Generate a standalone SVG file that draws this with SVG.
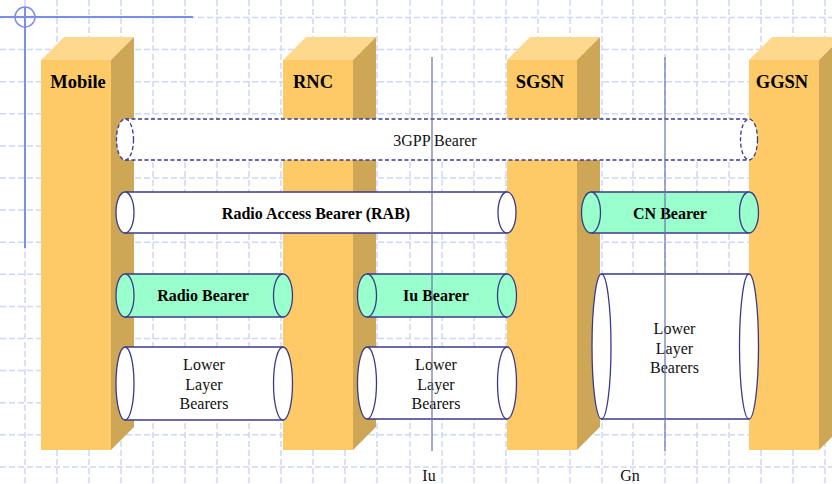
<svg xmlns="http://www.w3.org/2000/svg" width="832" height="484" viewBox="0 0 832 484">
<defs>
<style>
.grid line{stroke:#cdd8f7;stroke-width:1.5;stroke-dasharray:6 3}
.front{fill:#fdca67}
.top{fill:#fed88c}
.side{fill:#cda755}
.lbl{font-family:"Liberation Serif",serif;font-weight:bold;font-size:18.5px;fill:#000;text-anchor:middle}
.cw{fill:#fff}
.cg{fill:#99ffcc}
.edge{stroke:#3a3a8c;stroke-width:1.3;fill:none}
.dash{stroke:#3a3a8c;stroke-width:1.3;fill:none;stroke-dasharray:4 2.5}
.bt{font-family:"Liberation Serif",serif;font-weight:bold;font-size:16px;fill:#000;text-anchor:middle}
.rt{font-family:"Liberation Serif",serif;font-size:16px;fill:#111;text-anchor:middle}
.iface{stroke:#6a72ae;stroke-width:1.2}
</style>
</defs>
<rect width="832" height="484" fill="#fff"/>
<g class="grid">
<line x1="25" y1="0" x2="25" y2="484"/><line x1="57" y1="0" x2="57" y2="484"/><line x1="89" y1="0" x2="89" y2="484"/><line x1="121" y1="0" x2="121" y2="484"/><line x1="153" y1="0" x2="153" y2="484"/><line x1="185" y1="0" x2="185" y2="484"/><line x1="217" y1="0" x2="217" y2="484"/><line x1="249" y1="0" x2="249" y2="484"/><line x1="281" y1="0" x2="281" y2="484"/><line x1="313" y1="0" x2="313" y2="484"/><line x1="345" y1="0" x2="345" y2="484"/><line x1="377" y1="0" x2="377" y2="484"/><line x1="410" y1="0" x2="410" y2="484"/><line x1="442" y1="0" x2="442" y2="484"/><line x1="474" y1="0" x2="474" y2="484"/><line x1="506" y1="0" x2="506" y2="484"/><line x1="538" y1="0" x2="538" y2="484"/><line x1="570" y1="0" x2="570" y2="484"/><line x1="602" y1="0" x2="602" y2="484"/><line x1="633" y1="0" x2="633" y2="484"/><line x1="665" y1="0" x2="665" y2="484"/><line x1="697" y1="0" x2="697" y2="484"/><line x1="729" y1="0" x2="729" y2="484"/><line x1="761" y1="0" x2="761" y2="484"/><line x1="793" y1="0" x2="793" y2="484"/><line x1="825" y1="0" x2="825" y2="484"/>
<line x1="0" y1="17.5" x2="832" y2="17.5"/><line x1="0" y1="49.6" x2="832" y2="49.6"/><line x1="0" y1="81.7" x2="832" y2="81.7"/><line x1="0" y1="113.8" x2="832" y2="113.8"/><line x1="0" y1="145.9" x2="832" y2="145.9"/><line x1="0" y1="178" x2="832" y2="178"/><line x1="0" y1="210.1" x2="832" y2="210.1"/><line x1="0" y1="242.2" x2="832" y2="242.2"/><line x1="0" y1="274.3" x2="832" y2="274.3"/><line x1="0" y1="306.4" x2="832" y2="306.4"/><line x1="0" y1="338.5" x2="832" y2="338.5"/><line x1="0" y1="370.6" x2="832" y2="370.6"/><line x1="0" y1="402.7" x2="832" y2="402.7"/><line x1="0" y1="434.8" x2="832" y2="434.8"/><line x1="0" y1="466.9" x2="832" y2="466.9"/>
</g>
<g id="decoration" stroke="#7a8fe6" fill="none" stroke-width="2">
<line x1="0" y1="17" x2="193" y2="17"/>
<line x1="25" y1="7" x2="25" y2="248"/>
<circle cx="25" cy="17" r="10" stroke-width="1.5"/>
</g>
<g id="mobile">
<polygon class="top" points="41,60 64,37 134,37 111,60"/>
<polygon class="side" points="111,60 134,37 134,427 111,450"/>
<rect class="front" x="41" y="60" width="70" height="390"/>
<text class="lbl" x="78" y="88">Mobile</text>
</g>
<g id="rnc">
<polygon class="top" points="283,60 306,37 376,37 353,60"/>
<polygon class="side" points="353,60 376,37 376,427 353,450"/>
<rect class="front" x="283" y="60" width="70" height="390"/>
<text class="lbl" x="313" y="88">RNC</text>
</g>
<g id="sgsn">
<polygon class="top" points="507,60 530,37 600,37 577,60"/>
<polygon class="side" points="577,60 600,37 600,427 577,450"/>
<rect class="front" x="507" y="60" width="70" height="390"/>
<text class="lbl" x="540" y="88">SGSN</text>
</g>
<g id="ggsn">
<polygon class="top" points="749,60 772,37 842,37 819,60"/>
<polygon class="side" points="819,60 842,37 842,427 819,450"/>
<rect class="front" x="749" y="60" width="70" height="390"/>
<text class="lbl" x="782" y="88">GGSN</text>
</g>
<g id="bearer-3gpp">
<rect class="cw" x="125" y="119" width="624" height="41"/>
<line class="dash" x1="125" y1="119" x2="749" y2="119"/>
<line class="dash" x1="125" y1="160" x2="749" y2="160"/>
<ellipse class="cw" cx="125" cy="139.5" rx="8.5" ry="20.5"/>
<ellipse class="dash" cx="125" cy="139.5" rx="8.5" ry="20.5"/>
<ellipse class="cw" cx="749" cy="139.5" rx="8.5" ry="20.5"/>
<ellipse class="dash" cx="749" cy="139.5" rx="8.5" ry="20.5"/>
<text class="rt" x="435" y="146">3GPP Bearer</text>
</g>
<g id="rab">
<rect class="cw" x="125" y="192" width="382" height="41"/>
<line class="edge" x1="125" y1="192" x2="507" y2="192"/>
<line class="edge" x1="125" y1="233" x2="507" y2="233"/>
<ellipse class="cw edge" cx="125" cy="212.5" rx="9" ry="20.5" style="fill:#fff"/>
<ellipse class="edge" cx="507" cy="212.5" rx="9" ry="20.5" style="fill:#fff"/>
<text class="bt" x="316" y="219">Radio Access Bearer (RAB)</text>
</g>
<g id="cn-bearer">
<rect class="cg" x="591" y="192" width="158" height="41"/>
<line class="edge" x1="591" y1="192" x2="749" y2="192"/>
<line class="edge" x1="591" y1="233" x2="749" y2="233"/>
<ellipse class="edge" cx="591" cy="212.5" rx="9.5" ry="20.5" style="fill:#99ffcc"/>
<ellipse class="edge" cx="749" cy="212.5" rx="9.5" ry="20.5" style="fill:#99ffcc"/>
<text class="bt" x="670" y="219">CN Bearer</text>
</g>
<g id="radio-bearer">
<rect class="cg" x="125" y="274" width="158" height="43"/>
<line class="edge" x1="125" y1="274" x2="283" y2="274"/>
<line class="edge" x1="125" y1="317" x2="283" y2="317"/>
<ellipse class="edge" cx="125" cy="295.5" rx="9" ry="21.5" style="fill:#99ffcc"/>
<ellipse class="edge" cx="283" cy="295.5" rx="9.5" ry="21.5" style="fill:#99ffcc"/>
<text class="bt" x="203" y="301">Radio Bearer</text>
</g>
<g id="iu-bearer">
<rect class="cg" x="367" y="274" width="140" height="43"/>
<line class="edge" x1="367" y1="274" x2="507" y2="274"/>
<line class="edge" x1="367" y1="317" x2="507" y2="317"/>
<ellipse class="edge" cx="367" cy="295.5" rx="9.5" ry="21.5" style="fill:#99ffcc"/>
<ellipse class="edge" cx="507" cy="295.5" rx="9.5" ry="21.5" style="fill:#99ffcc"/>
<text class="bt" x="436" y="301">Iu Bearer</text>
</g>
<g id="lower-1">
<rect class="cw" x="125" y="347" width="158" height="73"/>
<line class="edge" x1="125" y1="347" x2="283" y2="347"/>
<line class="edge" x1="125" y1="420" x2="283" y2="420"/>
<ellipse class="edge" cx="125" cy="383.5" rx="9" ry="36.5" style="fill:#fff"/>
<ellipse class="edge" cx="283" cy="383.5" rx="9.5" ry="36.5" style="fill:#fff"/>
<text class="rt" x="204" y="370">Lower</text>
<text class="rt" x="204" y="389.5">Layer</text>
<text class="rt" x="204" y="409">Bearers</text>
</g>
<g id="lower-2">
<rect class="cw" x="367" y="347" width="140" height="72"/>
<line class="edge" x1="367" y1="347" x2="507" y2="347"/>
<line class="edge" x1="367" y1="419" x2="507" y2="419"/>
<ellipse class="edge" cx="367" cy="383" rx="9.5" ry="36" style="fill:#fff"/>
<ellipse class="edge" cx="507" cy="383" rx="9.5" ry="36" style="fill:#fff"/>
<text class="rt" x="436" y="370">Lower</text>
<text class="rt" x="436" y="389.5">Layer</text>
<text class="rt" x="436" y="409">Bearers</text>
</g>
<g id="lower-3">
<rect class="cw" x="601" y="274" width="148" height="145"/>
<line class="edge" x1="601" y1="274" x2="749" y2="274"/>
<line class="edge" x1="601" y1="419" x2="749" y2="419"/>
<ellipse class="edge" cx="601.5" cy="346.5" rx="9.5" ry="72.5" style="fill:#fff"/>
<ellipse class="edge" cx="749" cy="346.5" rx="9.5" ry="72.5" style="fill:#fff"/>
<text class="rt" x="674.5" y="334">Lower</text>
<text class="rt" x="674.5" y="353.5">Layer</text>
<text class="rt" x="674.5" y="373">Bearers</text>
</g>
<g id="connectors">
<line class="iface" x1="432" y1="57" x2="432" y2="451"/>
<line class="iface" x1="665" y1="57" x2="665" y2="451"/>
</g>
<g id="interface-labels">
<text class="rt" x="429" y="481">Iu</text>
<text class="rt" x="630" y="481">Gn</text>
</g>
</svg>
